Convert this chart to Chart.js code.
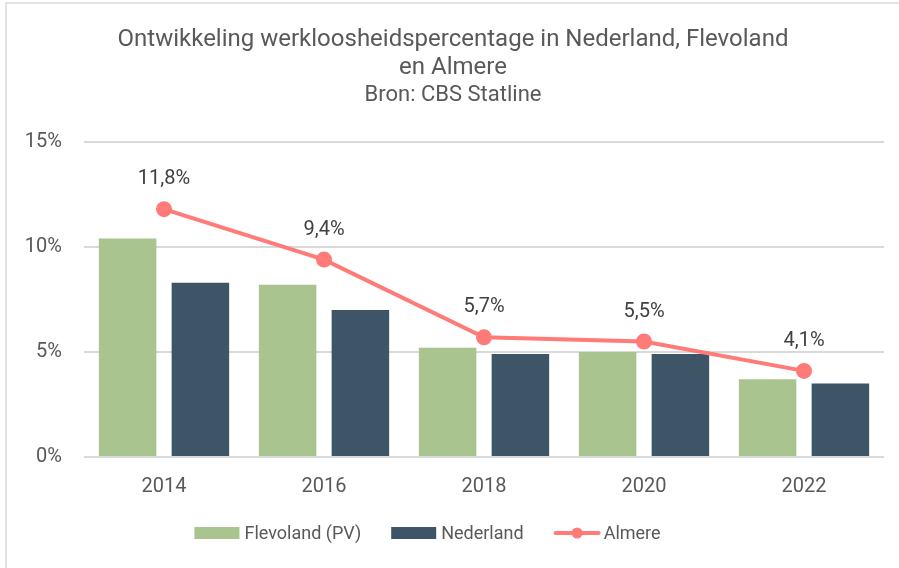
<!DOCTYPE html>
<html>
<head>
<meta charset="utf-8">
<script src="https://cdn.jsdelivr.net/npm/chart.js@4.4.1/dist/chart.umd.min.js"></script>
<style>
  html, body { margin: 0; padding: 0; background: #fff; }
  #wrap { position: relative; width: 899px; height: 568px; overflow: hidden; }
  #frame { position: absolute; left: 5px; top: 2px; right: -10px; bottom: -10px;
           border-top: 2px solid #e3e3e3; border-left: 2px solid #e3e3e3; }
  canvas { position: absolute; left: 0; top: 0; }
</style>
</head>
<body>
<div id="wrap">
  <div id="frame"></div>
  <canvas id="grafico" width="899" height="568"></canvas>
</div>
<script>
const jaren = ["2014", "2016", "2018", "2020", "2022"];
const flevoland = [10.4, 8.2, 5.2, 5.0, 3.7];
const nederland = [8.3, 7.0, 4.9, 4.9, 3.5];
const almere = [11.8, 9.4, 5.7, 5.5, 4.1];
const yTicks = [0, 5, 10, 15];

const FONT = "Roboto, 'Open Sans', sans-serif";
const GROEN = "#a9c48e";
const DONKER = "#3d5566";
const ROOD = "#ff7b78";
const TEKST = "#595959";

function procent(v) {
  return v.toFixed(1).replace(".", ",") + "%";
}

// labels boven de punten van Almere
const puntLabels = {
  id: "puntLabels",
  afterDatasetsDraw(chart) {
    const ctx = chart.ctx;
    const meta = chart.getDatasetMeta(2);
    ctx.save();
    ctx.font = "20px " + FONT;
    ctx.fillStyle = "#404040";
    ctx.textAlign = "center";
    ctx.textBaseline = "middle";
    meta.data.forEach((pt, i) => {
      ctx.fillText(procent(almere[i]), pt.x, pt.y - 30);
    });
    ctx.restore();
  }
};

// eigen legenda onderaan
const legenda = {
  id: "legenda",
  afterDraw(chart) {
    const ctx = chart.ctx;
    const sets = chart.data.datasets;
    const icoonB = 45, tussen = 5, ruimte = 30;
    ctx.save();
    ctx.font = "18px " + FONT;
    ctx.textBaseline = "middle";
    const breedtes = sets.map(ds => ctx.measureText(ds.label).width);
    let totaal = 0;
    breedtes.forEach((b, i) => { totaal += icoonB + tussen + b + (i > 0 ? ruimte : 0); });
    let x = chart.width / 2 - 22 - totaal / 2;
    const y = 533;
    sets.forEach((ds, i) => {
      if (ds.type === "line") {
        ctx.strokeStyle = ds.borderColor;
        ctx.lineWidth = 4;
        ctx.lineCap = "round";
        ctx.beginPath();
        ctx.moveTo(x + 2, y);
        ctx.lineTo(x + icoonB, y);
        ctx.stroke();
        ctx.fillStyle = ds.borderColor;
        ctx.beginPath();
        ctx.arc(x + icoonB / 2 + 1, y, 5.5, 0, Math.PI * 2);
        ctx.fill();
      } else {
        ctx.fillStyle = ds.backgroundColor;
        ctx.fillRect(x, y - 6, icoonB, 12);
      }
      x += icoonB + tussen;
      ctx.fillStyle = TEKST;
      ctx.textAlign = "left";
      ctx.fillText(ds.label, x, y + 1);
      x += breedtes[i] + ruimte;
    });
    ctx.restore();
  }
};

const ctx = document.getElementById("grafico").getContext("2d");
new Chart(ctx, {
  type: "bar",
  data: {
    labels: jaren,
    datasets: [
      { label: "Flevoland (PV)", data: flevoland, backgroundColor: GROEN,
        categoryPercentage: 0.91, barPercentage: 0.79 },
      { label: "Nederland", data: nederland, backgroundColor: DONKER,
        categoryPercentage: 0.91, barPercentage: 0.79 },
      { label: "Almere", type: "line", data: almere, order: -1,
        borderColor: ROOD, backgroundColor: ROOD, borderWidth: 4,
        pointRadius: 6, pointHoverRadius: 6, tension: 0 }
    ]
  },
  options: {
    responsive: false,
    animation: false,
    layout: { padding: { left: 22, right: 15, top: 0, bottom: 51 } },
    plugins: {
      title: {
        display: true,
        text: ["Ontwikkeling werkloosheidspercentage in Nederland, Flevoland", "en Almere"],
        color: TEKST,
        font: { family: FONT, size: 24, weight: "normal", lineHeight: 28 / 24 },
        padding: { top: 26, bottom: 0 }
      },
      subtitle: {
        display: true,
        text: "Bron: CBS Statline",
        color: TEKST,
        font: { family: FONT, size: 22, weight: "normal", lineHeight: 24 / 22 },
        padding: { top: 1, bottom: 35 }
      },
      legend: { display: false },
      tooltip: { enabled: false }
    },
    scales: {
      x: {
        grid: { display: false, drawTicks: false },
        border: { display: false },
        ticks: { color: TEKST, font: { family: FONT, size: 20 }, padding: 18 }
      },
      y: {
        min: 0,
        max: 15,
        afterBuildTicks(scale) {
          scale.ticks = yTicks.map(v => ({ value: v }));
        },
        afterFit(scale) {
          scale.width = 62;
        },
        grid: { color: "#d9d9d9", lineWidth: 2, drawTicks: false },
        border: { display: false },
        ticks: {
          color: TEKST,
          font: { family: FONT, size: 20 },
          padding: 22,
          callback: v => v + "%"
        }
      }
    }
  },
  plugins: [puntLabels, legenda]
});
</script>
</body>
</html>
